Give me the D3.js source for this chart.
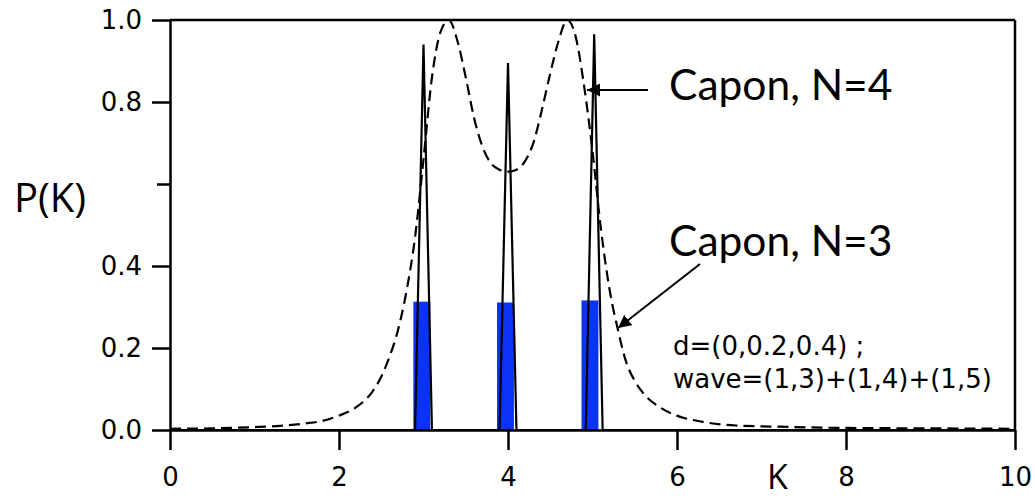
<!DOCTYPE html>
<html>
<head>
<meta charset="utf-8">
<script src="https://cdn.jsdelivr.net/npm/d3@7"></script>
<style>
  html, body { margin: 0; padding: 0; background: #fff; }
  svg { display: block; }
</style>
</head>
<body>
<svg id="chart" width="1035" height="499"></svg>
<script>
// Capon spectrum, N=3 (dashed curve)
const capon3K = [0, 0.5, 1.0, 1.3, 1.6, 1.8, 2.0, 2.2, 2.4, 2.5, 2.6, 2.7, 2.8, 2.9, 3.0,
  3.1, 3.2, 3.3, 3.4, 3.5, 3.6, 3.7, 3.8, 3.9, 4.0, 4.1, 4.2, 4.3, 4.4, 4.5, 4.6, 4.7,
  4.8, 4.9, 5.0, 5.1, 5.2, 5.3, 5.4, 5.5, 5.6, 5.8, 6.0, 6.3, 6.7, 7.2, 8.0, 9.0, 10.0];
const capon3P = [0.003, 0.004, 0.007, 0.010, 0.016, 0.022, 0.035, 0.055, 0.095, 0.13, 0.18, 0.245, 0.34, 0.47, 0.66,
  0.86, 0.97, 1.0, 0.95, 0.86, 0.76, 0.69, 0.65, 0.635, 0.63, 0.635, 0.655, 0.70, 0.78, 0.87, 0.95, 1.0,
  0.96, 0.84, 0.68, 0.49, 0.345, 0.245, 0.165, 0.12, 0.09, 0.055, 0.035, 0.02, 0.011, 0.008, 0.005, 0.004, 0.003];

// Capon spectrum, N=4 (solid line with narrow peaks)
const capon4K = [0, 2.9, 3.0, 3.1, 3.9, 4.0, 4.1, 4.92, 5.02, 5.12, 10];
const capon4P = [0, 0, 0.94, 0, 0, 0.895, 0, 0, 0.965, 0, 0];

// Wave components (blue bars)
const waveK = [2.98, 3.97, 4.97];
const waveP = [0.313, 0.311, 0.316];
const waveWidth = 0.2;

// Axis ticks
const xTicks = [0, 2, 4, 6, 8, 10];
const yTicks = [0.0, 0.2, 0.4, 0.6, 0.8, 1.0];
const yTickLabels = ["0.0", "0.2", "0.4", "", "0.8", "1.0"];

const svg = d3.select("#chart");
const plotLeft = 170, plotRight = 1015, plotTop = 20, plotBottom = 430;

const x = d3.scaleLinear().domain([0, 10]).range([plotLeft, plotRight]);
const y = d3.scaleLinear().domain([0, 1]).range([plotBottom, plotTop]);

const tickFont = "'DejaVu Sans', sans-serif";
const titleFont = "'Open Sans', sans-serif";
const labelFont = "Lato, sans-serif";

// Frame: top and right borders
svg.append("line").attr("x1", plotLeft).attr("x2", plotRight).attr("y1", plotTop).attr("y2", plotTop)
  .attr("stroke", "#000").attr("stroke-width", 2.5);
svg.append("line").attr("x1", plotRight).attr("x2", plotRight).attr("y1", plotTop).attr("y2", plotBottom)
  .attr("stroke", "#000").attr("stroke-width", 2.5);

// Blue bars
svg.append("g").selectAll("rect").data(waveK).join("rect")
  .attr("x", (d) => x(d - waveWidth / 2))
  .attr("width", (d) => x(d + waveWidth / 2) - x(d - waveWidth / 2))
  .attr("y", (d, i) => y(waveP[i]))
  .attr("height", (d, i) => y(0) - y(waveP[i]))
  .attr("fill", "#0a33f5");

// Dashed Capon N=3 curve
const line3 = d3.line().x((d) => x(d[0])).y((d) => y(d[1])).curve(d3.curveMonotoneX);
svg.append("path")
  .datum(capon3K.map((k, i) => [k, capon3P[i]]))
  .attr("d", line3)
  .attr("fill", "none").attr("stroke", "#000").attr("stroke-width", 2.2)
  .attr("stroke-dasharray", "11,6");

// Solid Capon N=4 line
const line4 = d3.line().x((d) => x(d[0])).y((d) => y(d[1]));
svg.append("path")
  .datum(capon4K.map((k, i) => [k, capon4P[i]]))
  .attr("d", line4)
  .attr("fill", "none").attr("stroke", "#000").attr("stroke-width", 2.2)
  .attr("stroke-linejoin", "miter");

// X axis
const xAxis = d3.axisBottom(x).tickValues(xTicks).tickFormat(d3.format("d"))
  .tickSize(20).tickSizeOuter(0).tickPadding(18);
const gx = svg.append("g").attr("transform", `translate(0,${plotBottom})`).call(xAxis);
gx.select(".domain").attr("stroke-width", 2.5);
gx.selectAll(".tick line").attr("stroke-width", 2.5);
gx.selectAll(".tick text").attr("font-family", tickFont).attr("font-size", 26).attr("fill", "#000");

// Y axis
const yAxis = d3.axisLeft(y).tickValues(yTicks).tickFormat((d, i) => yTickLabels[i])
  .tickSize(18).tickSizeOuter(0).tickPadding(10);
const gy = svg.append("g").attr("transform", `translate(${plotLeft},0)`).call(yAxis);
gy.select(".domain").attr("stroke-width", 2.5);
gy.selectAll(".tick line").attr("stroke-width", 2.5)
  .attr("x2", (d, i) => yTickLabels[i] === "" ? -13 : -18);
gy.selectAll(".tick text").attr("font-family", tickFont).attr("font-size", 26).attr("fill", "#000");

// Axis titles
svg.append("text").attr("x", 14).attr("y", 212).text("P(K)")
  .attr("font-family", titleFont).attr("font-size", 40).attr("fill", "#000");
svg.append("text").attr("x", 767).attr("y", 489).text("K")
  .attr("font-family", titleFont).attr("font-size", 34).attr("fill", "#000");

// Arrow marker
svg.append("defs").append("marker")
  .attr("id", "arrow").attr("viewBox", "0 0 12 12").attr("refX", 12).attr("refY", 6)
  .attr("markerWidth", 13).attr("markerHeight", 13).attr("markerUnits", "userSpaceOnUse")
  .attr("orient", "auto")
  .append("path").attr("d", "M0,0 L12,6 L0,12 Z").attr("fill", "#000");

// Labels with arrows
svg.append("line").attr("x1", 648).attr("y1", 90).attr("x2", 587).attr("y2", 90)
  .attr("stroke", "#000").attr("stroke-width", 2).attr("marker-end", "url(#arrow)");
svg.append("text").attr("x", 669).attr("y", 100).text("Capon, N=4")
  .attr("font-family", labelFont).attr("font-size", 42.5).attr("fill", "#000");

svg.append("line").attr("x1", 700).attr("y1", 264).attr("x2", 618).attr("y2", 328)
  .attr("stroke", "#000").attr("stroke-width", 2).attr("marker-end", "url(#arrow)");
svg.append("text").attr("x", 669).attr("y", 256).text("Capon, N=3")
  .attr("font-family", labelFont).attr("font-size", 42.5).attr("fill", "#000");

// Parameter note
svg.append("text").attr("x", 673).attr("y", 355).text("d=(0,0.2,0.4) ;")
  .attr("font-family", tickFont).attr("font-size", 26).attr("fill", "#000");
svg.append("text").attr("x", 673).attr("y", 388).text("wave=(1,3)+(1,4)+(1,5)")
  .attr("font-family", tickFont).attr("font-size", 26).attr("fill", "#000");
</script>
</body>
</html>
